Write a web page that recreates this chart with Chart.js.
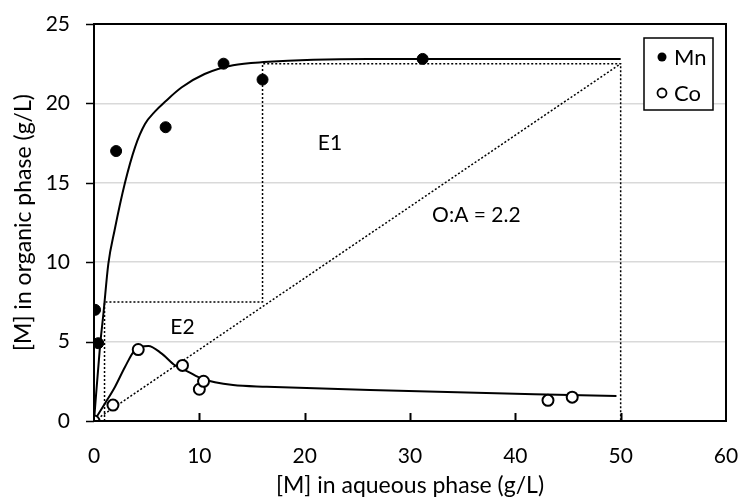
<!DOCTYPE html>
<html>
<head>
<meta charset="utf-8">
<script src="https://cdn.jsdelivr.net/npm/chart.js@4.4.0/dist/chart.umd.min.js"></script>
<style>
	html, body { margin: 0; padding: 0; background: #fff; }
	#box { width: 740px; height: 497px; }
</style>
</head>
<body>
<div id="box"><canvas id="myChart"></canvas></div>
<script>
/* 資料 */
// Mn 實驗點
var mnX = [0.1, 0.4, 2.1, 6.8, 12.3, 16.0, 31.2];
var mnY = [7.0, 4.9, 17.0, 18.5, 22.5, 21.5, 22.8];
// Co 實驗點
var coX = [0, 1.8, 4.2, 8.4, 10.0, 10.4, 43.1, 45.4];
var coY = [0, 1.0, 4.5, 3.5, 2.0, 2.5, 1.3, 1.5];
// Mn 擬合曲線
var mnFitX = [0, 0.57, 0.9, 1.36, 1.95, 2.94, 3.9, 4.84, 5.8, 6.74, 8.3, 10.5, 13.2, 16.1, 26, 50];
var mnFitY = [0, 4.7, 6.8, 9.9, 12.0, 15.0, 17.25, 18.7, 19.5, 20.1, 21.0, 21.85, 22.4, 22.6, 22.8, 22.8];
// Co 擬合曲線
var coFitX = [0, 1.04, 2.0, 2.94, 3.9, 5.16, 6.4, 7.7, 8.96, 10.2, 13.2, 16.4, 26.2, 49.6];
var coFitY = [0, 1.1, 2.16, 3.4, 4.47, 4.72, 4.26, 3.5, 3.1, 2.68, 2.26, 2.16, 1.95, 1.57];
// McCabe-Thiele 階梯
var stepX = [1, 1, 16, 16, 50, 50];
var stepY = [0, 7.5, 7.5, 22.5, 22.5, 0];
// 操作線 O:A = 2.2
var opX = [0, 50];
var opY = [0, 22.5];
// 標籤
var xTicks = [0, 10, 20, 30, 40, 50, 60];
var yTicks = [0, 5, 10, 15, 20, 25];
var legendNames = ['Mn', 'Co'];
var notes = [
	{ text: 'E1', x: 22.4, y: 17.5 },
	{ text: 'E2', x: 8.4, y: 5.9 },
	{ text: 'O:A = 2.2', x: 36.3, y: 12.95 }
];

var FONT = 'Lato, "Open Sans", sans-serif';
var CLEAR = 'rgba(0,0,0,0)';

function toPoints(xs, ys) {
	var pts = [];
	for (var i = 0; i < xs.length; i++) {
		pts.push({ x: xs[i], y: ys[i] });
	}
	return pts;
}

// 外框、刻度、圖例、文字
var extras = {
	id: 'extras',
	afterDraw: function(chart) {
		var ctx = chart.ctx;
		var a = chart.chartArea;
		var xs = chart.scales.x;
		var ys = chart.scales.y;
		ctx.save();
		// 外框
		ctx.strokeStyle = '#000';
		ctx.lineWidth = 2;
		ctx.strokeRect(a.left, a.top, a.right - a.left, a.bottom - a.top);
		// x 軸內側刻度
		for (var i = 1; i < xTicks.length - 1; i++) {
			var px = Math.round(xs.getPixelForValue(xTicks[i])) + 0.5;
			ctx.beginPath();
			ctx.moveTo(px, a.bottom);
			ctx.lineTo(px, a.bottom - 8);
			ctx.stroke();
		}
		// y 軸外側刻度
		ctx.lineWidth = 1.5;
		for (var j = 0; j < yTicks.length; j++) {
			var py = Math.round(ys.getPixelForValue(yTicks[j])) + 0.5;
			ctx.beginPath();
			ctx.moveTo(a.left - 8, py);
			ctx.lineTo(a.left, py);
			ctx.stroke();
		}
		// 文字
		ctx.fillStyle = '#000';
		ctx.font = '21px ' + FONT;
		ctx.textAlign = 'center';
		ctx.textBaseline = 'middle';
		notes.forEach(function(n) {
			ctx.fillText(n.text, xs.getPixelForValue(n.x), ys.getPixelForValue(n.y));
		});
		// 圖例
		var lx = 644, ly = 38, lw = 69, lh = 72;
		ctx.fillStyle = '#fff';
		ctx.fillRect(lx, ly, lw, lh);
		ctx.lineWidth = 1.5;
		ctx.strokeStyle = '#000';
		ctx.strokeRect(lx, ly, lw, lh);
		ctx.font = '22px ' + FONT;
		ctx.textAlign = 'left';
		for (var k = 0; k < legendNames.length; k++) {
			var cy = ly + 19 + k * 36;
			ctx.beginPath();
			ctx.arc(lx + 18, cy, 4.5, 0, Math.PI * 2);
			if (k === 0) {
				ctx.fillStyle = '#000';
				ctx.fill();
			} else {
				ctx.fillStyle = '#fff';
				ctx.fill();
				ctx.lineWidth = 1.8;
				ctx.stroke();
			}
			ctx.fillStyle = '#000';
			ctx.fillText(legendNames[k], lx + 30, cy + 1);
		}
		ctx.restore();
	}
};

var ctx = document.getElementById('myChart');
var myChart = new Chart(ctx, {
	type: 'scatter',
	data: {
		datasets: [
			{
				label: 'Mn',
				data: toPoints(mnX, mnY),
				backgroundColor: '#000',
				borderColor: '#000',
				pointRadius: 5.5,
				order: 0
			},
			{
				label: 'Co',
				data: toPoints(coX, coY),
				backgroundColor: '#fff',
				borderColor: '#000',
				borderWidth: 2,
				pointRadius: 5.5,
				order: 0
			},
			{
				label: 'Mn fit',
				type: 'line',
				data: toPoints(mnFitX, mnFitY),
				borderColor: '#000',
				borderWidth: 2,
				pointRadius: 0,
				cubicInterpolationMode: 'monotone',
				fill: false,
				order: 1
			},
			{
				label: 'Co fit',
				type: 'line',
				data: toPoints(coFitX, coFitY),
				borderColor: '#000',
				borderWidth: 2,
				pointRadius: 0,
				cubicInterpolationMode: 'monotone',
				fill: false,
				order: 1
			},
			{
				label: 'steps',
				type: 'line',
				data: toPoints(stepX, stepY),
				borderColor: '#000',
				borderWidth: 1.5,
				borderDash: [2, 2],
				pointRadius: 0,
				tension: 0,
				fill: false,
				order: 2
			},
			{
				label: 'operating',
				type: 'line',
				data: toPoints(opX, opY),
				borderColor: '#000',
				borderWidth: 1.5,
				borderDash: [2, 2],
				pointRadius: 0,
				fill: false,
				order: 2
			}
		]
	},
	options: {
		responsive: true,
		maintainAspectRatio: false,
		animation: false,
		layout: { padding: { top: 24, right: 14, left: 0, bottom: 0 } },
		plugins: {
			legend: { display: false },
			tooltip: { enabled: false }
		},
		scales: {
			x: {
				type: 'linear',
				min: 0,
				max: 60,
				afterBuildTicks: function(scale) {
					scale.ticks = xTicks.map(function(v) { return { value: v }; });
				},
				afterFit: function(scale) { scale.height = 76; },
				grid: {
					display: true,
					drawOnChartArea: false,
					drawTicks: true,
					tickLength: 23,
					tickColor: CLEAR,
					color: CLEAR
				},
				border: { display: false },
				ticks: {
					color: '#000',
					padding: 0,
					maxRotation: 0,
					font: { family: FONT, size: 21 }
				},
				title: {
					display: true,
					text: '[M] in aqueous phase (g/L)',
					color: '#000',
					padding: { top: 0, bottom: 0 },
					font: { family: FONT, size: 23, lineHeight: 1 }
				}
			},
			y: {
				type: 'linear',
				min: 0,
				max: 25,
				afterBuildTicks: function(scale) {
					scale.ticks = yTicks.map(function(v) { return { value: v }; });
				},
				afterFit: function(scale) { scale.width = 94; },
				grid: {
					color: '#d9d9d9',
					tickColor: CLEAR,
					tickLength: 24,
					lineWidth: 1.5
				},
				border: { display: false },
				ticks: {
					color: '#000',
					padding: 0,
					font: { family: FONT, size: 21 }
				},
				title: {
					display: true,
					text: '[M] in organic phase (g/L)',
					color: '#000',
					padding: { top: 10, bottom: 0 },
					font: { family: FONT, size: 23, lineHeight: 1.2 }
				}
			}
		}
	},
	plugins: [extras]
});
</script>
</body>
</html>
